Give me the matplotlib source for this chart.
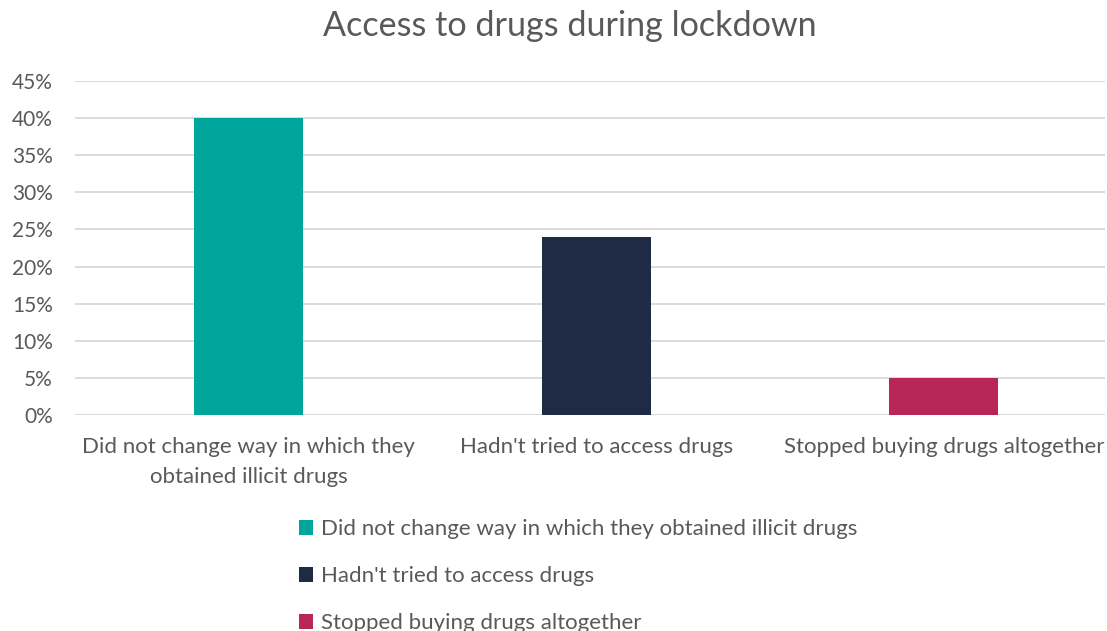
import matplotlib.pyplot as plt
from matplotlib.patches import Patch
from matplotlib.ticker import PercentFormatter

categories = [
    "Did not change way in which they obtained illicit drugs",
    "Hadn't tried to access drugs",
    "Stopped buying drugs altogether",
]
tick_labels = [
    "Did not change way in which they\nobtained illicit drugs",
    "Hadn't tried to access drugs",
    "Stopped buying drugs altogether",
]
values = [40, 24, 5]
colors = ["#00A59B", "#1F2A44", "#B72656"]

text_color = "#595959"
grid_color = "#D9D9D9"

plt.rcParams["font.family"] = ["Lato", "DejaVu Sans"]

fig = plt.figure(figsize=(11.07, 6.31), dpi=100)
ax = fig.add_axes([75 / 1107, 1 - 415 / 631, 1030 / 1107, 334 / 631])

x = range(len(values))
ax.bar(x, values, width=0.314, color=colors, zorder=3)

ax.set_ylim(0, 45)
ax.set_yticks(range(0, 46, 5))
ax.yaxis.set_major_formatter(PercentFormatter(decimals=0))
ax.set_xlim(-0.5, 2.464)
ax.set_xticks(list(x))
ax.set_xticklabels(tick_labels, linespacing=1.6)

ax.grid(axis="y", color=grid_color, linewidth=1.3, zorder=0)
for s in ax.spines.values():
    s.set_visible(False)
ax.tick_params(axis="both", length=0, colors=text_color)
ax.tick_params(axis="x", pad=16, labelsize=16)
ax.tick_params(axis="y", pad=16, labelsize=15)

fig.text(570 / 1107, 1 - 26 / 631, "Access to drugs during lockdown",
         ha="center", va="center", fontsize=24.6, color=text_color)

handles = [Patch(facecolor=c, edgecolor="none") for c in colors]
leg = fig.legend(handles, categories, loc="upper left",
                 bbox_to_anchor=(279 / 1107, 1 - 499 / 631),
                 frameon=False, fontsize=16, labelcolor=text_color,
                 handlelength=0.65, handleheight=0.65, handletextpad=0.35,
                 labelspacing=1.22)

fig.savefig("out.png", dpi=100, facecolor="white")
